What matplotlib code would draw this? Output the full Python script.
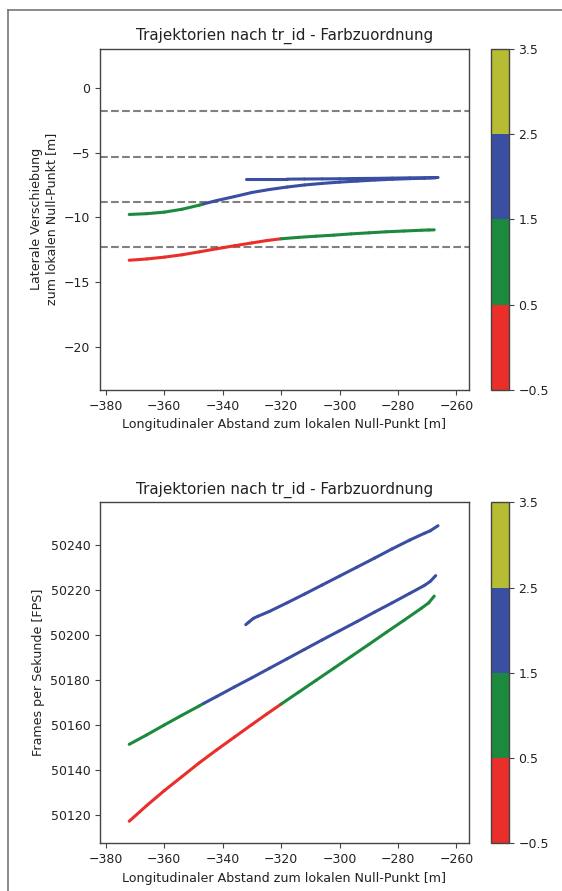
import numpy as np
import matplotlib
matplotlib.use('Agg')
import matplotlib.pyplot as plt
from matplotlib.colors import ListedColormap, BoundaryNorm
from matplotlib.collections import LineCollection
from matplotlib.lines import Line2D
import matplotlib.cm as cm

# Fahrzeug A (unten, rot -> gruen)
xa = [-372, -366, -360, -354, -348, -342, -336, -330, -325, -320, -314, -308, -302, -296,
      -290, -284, -278, -272, -269.5, -267.6]
lat_a = [-13.32, -13.22, -13.08, -12.9, -12.67, -12.43, -12.2, -11.98, -11.8, -11.66, -11.55,
         -11.46, -11.38, -11.28, -11.2, -11.12, -11.06, -11.0, -10.98, -10.97]
frm_a = [50117.2, 50124.2, 50130.8, 50137.0, 50143.2, 50149.0, 50154.6, 50160.2, 50164.8,
         50169.3, 50174.6, 50179.9, 50185.2, 50190.5, 50195.8, 50201.2, 50206.5, 50211.9,
         50214.3, 50217.3]
id_a = [0, 0, 0, 0, 0, 0, 0, 0, 0, 1, 1, 1, 1, 1, 1, 1, 1, 1, 1, 1]

# Fahrzeug B (mitte, gruen -> blau)
xb = [-372, -366, -360, -354, -348, -346.5, -342, -336, -330, -324, -318, -312, -306, -300,
      -294, -288, -282, -276, -271, -269, -267.1]
lat_b = [-9.78, -9.72, -9.6, -9.38, -9.06, -8.96, -8.7, -8.4, -8.08, -7.85, -7.66, -7.5,
         -7.38, -7.28, -7.2, -7.12, -7.06, -7.01, -6.98, -6.96, -6.95]
frm_b = [50151.4, 50155.6, 50160.0, 50164.3, 50168.5, 50169.6, 50172.7, 50176.9, 50181.0,
         50185.2, 50189.4, 50193.6, 50197.8, 50201.9, 50206.0, 50210.2, 50214.3, 50218.5,
         50222.0, 50223.8, 50226.4]
id_b = [1, 1, 1, 1, 1, 2, 2, 2, 2, 2, 2, 2, 2, 2, 2, 2, 2, 2, 2, 2, 2]

# Fahrzeug C (oben, blau)
xc = [-332.1, -331, -329.5, -328, -324, -318, -312, -306, -300, -294, -288, -282, -276,
      -271, -269, -266.3]
lat_c = [-7.05, -7.05, -7.05, -7.05, -7.05, -7.05, -7.04, -7.03, -7.02, -7.0, -6.99, -6.97,
         -6.95, -6.94, -6.93, -6.92]
frm_c = [50204.6, 50205.8, 50207.4, 50208.3, 50210.5, 50214.3, 50218.2, 50222.2, 50226.2,
         50230.2, 50234.2, 50238.3, 50242.2, 50245.2, 50246.3, 50248.6]
id_c = [2] * 16

# Fahrstreifengrenzen
lane_lines = [-1.8, -5.3, -8.8, -12.3]

colors = ['#ea2e2a', '#1b8a3c', '#3a4ea2', '#b7bd32']
cmap = ListedColormap(colors)
bounds = [-0.5, 0.5, 1.5, 2.5, 3.5]
norm = BoundaryNorm(bounds, cmap.N)

title = 'Trajektorien nach tr_id - Farbzuordnung'
xlabel = 'Longitudinaler Abstand zum lokalen Null-Punkt [m]'

plt.rcParams['font.family'] = ['DejaVu Sans']
plt.rcParams['axes.edgecolor'] = '#444444'
plt.rcParams['axes.linewidth'] = 1.0
plt.rcParams['xtick.color'] = '#444444'
plt.rcParams['ytick.color'] = '#444444'
plt.rcParams['xtick.labelcolor'] = '#222222'
plt.rcParams['ytick.labelcolor'] = '#222222'
plt.rcParams['xtick.labelsize'] = 9
plt.rcParams['ytick.labelsize'] = 9


def add_traj(ax, x, y, ids):
    pts = np.column_stack([x, y]).reshape(-1, 1, 2)
    segs = np.concatenate([pts[:-1], pts[1:]], axis=1)
    lc = LineCollection(segs, cmap=cmap, norm=norm, linewidth=2.2, capstyle='round')
    lc.set_array(np.array(ids[:-1], dtype=float))
    ax.add_collection(lc)


fig = plt.figure(figsize=(5.62, 8.91), dpi=100)

W, H = 562, 891
ax1 = fig.add_axes([100 / W, 1 - 390 / H, 369 / W, 341.5 / H])
cax1 = fig.add_axes([491 / W, 1 - 390 / H, 17.5 / W, 341.5 / H])
ax2 = fig.add_axes([100 / W, 1 - 843.3 / H, 369 / W, 341 / H])
cax2 = fig.add_axes([491 / W, 1 - 843.3 / H, 17.5 / W, 341 / H])

# oben: laterale Position
for yl in lane_lines:
    ax1.axhline(yl, color='gray', linestyle='--', linewidth=1.5)
add_traj(ax1, xa, lat_a, id_a)
add_traj(ax1, xb, lat_b, id_b)
add_traj(ax1, xc, lat_c, id_c)
ax1.set_xlim(-382, -255.7)
ax1.set_ylim(-23.35, 3.05)
ax1.set_yticks([0, -5, -10, -15, -20])
ax1.set_title(title, fontsize=10.9, color='#222222')
ax1.set_xlabel(xlabel, fontsize=9.1, color='#222222')
ax1.set_ylabel('Laterale Verschiebung\nzum lokalen Null-Punkt [m]', fontsize=9.1, color='#222222')

# unten: Frames
add_traj(ax2, xa, frm_a, id_a)
add_traj(ax2, xb, frm_b, id_b)
add_traj(ax2, xc, frm_c, id_c)
ax2.set_xlim(-382, -255.7)
ax2.set_ylim(50107.4, 50259)
ax2.set_yticks([50120, 50140, 50160, 50180, 50200, 50220, 50240])
ax2.set_title(title, fontsize=10.9, color='#222222')
ax2.set_xlabel(xlabel, fontsize=9.1, color='#222222')
ax2.set_ylabel('Frames per Sekunde [FPS]', fontsize=9.1, color='#222222')

for ax in (ax1, ax2):
    ax.set_xticks([-380, -360, -340, -320, -300, -280, -260])

for cax in (cax1, cax2):
    sm = cm.ScalarMappable(norm=norm, cmap=cmap)
    cb = fig.colorbar(sm, cax=cax, ticks=bounds)
    cb.ax.tick_params(labelsize=9)

# Rahmen (oben und links)
fig.add_artist(Line2D([8 / W, 8 / W], [0, 1 - 10 / H], transform=fig.transFigure,
                      color='#777777', linewidth=1.2))
fig.add_artist(Line2D([8 / W, 1], [1 - 10 / H, 1 - 10 / H], transform=fig.transFigure,
                      color='#777777', linewidth=1.2))

fig.savefig('out.png', dpi=100)
